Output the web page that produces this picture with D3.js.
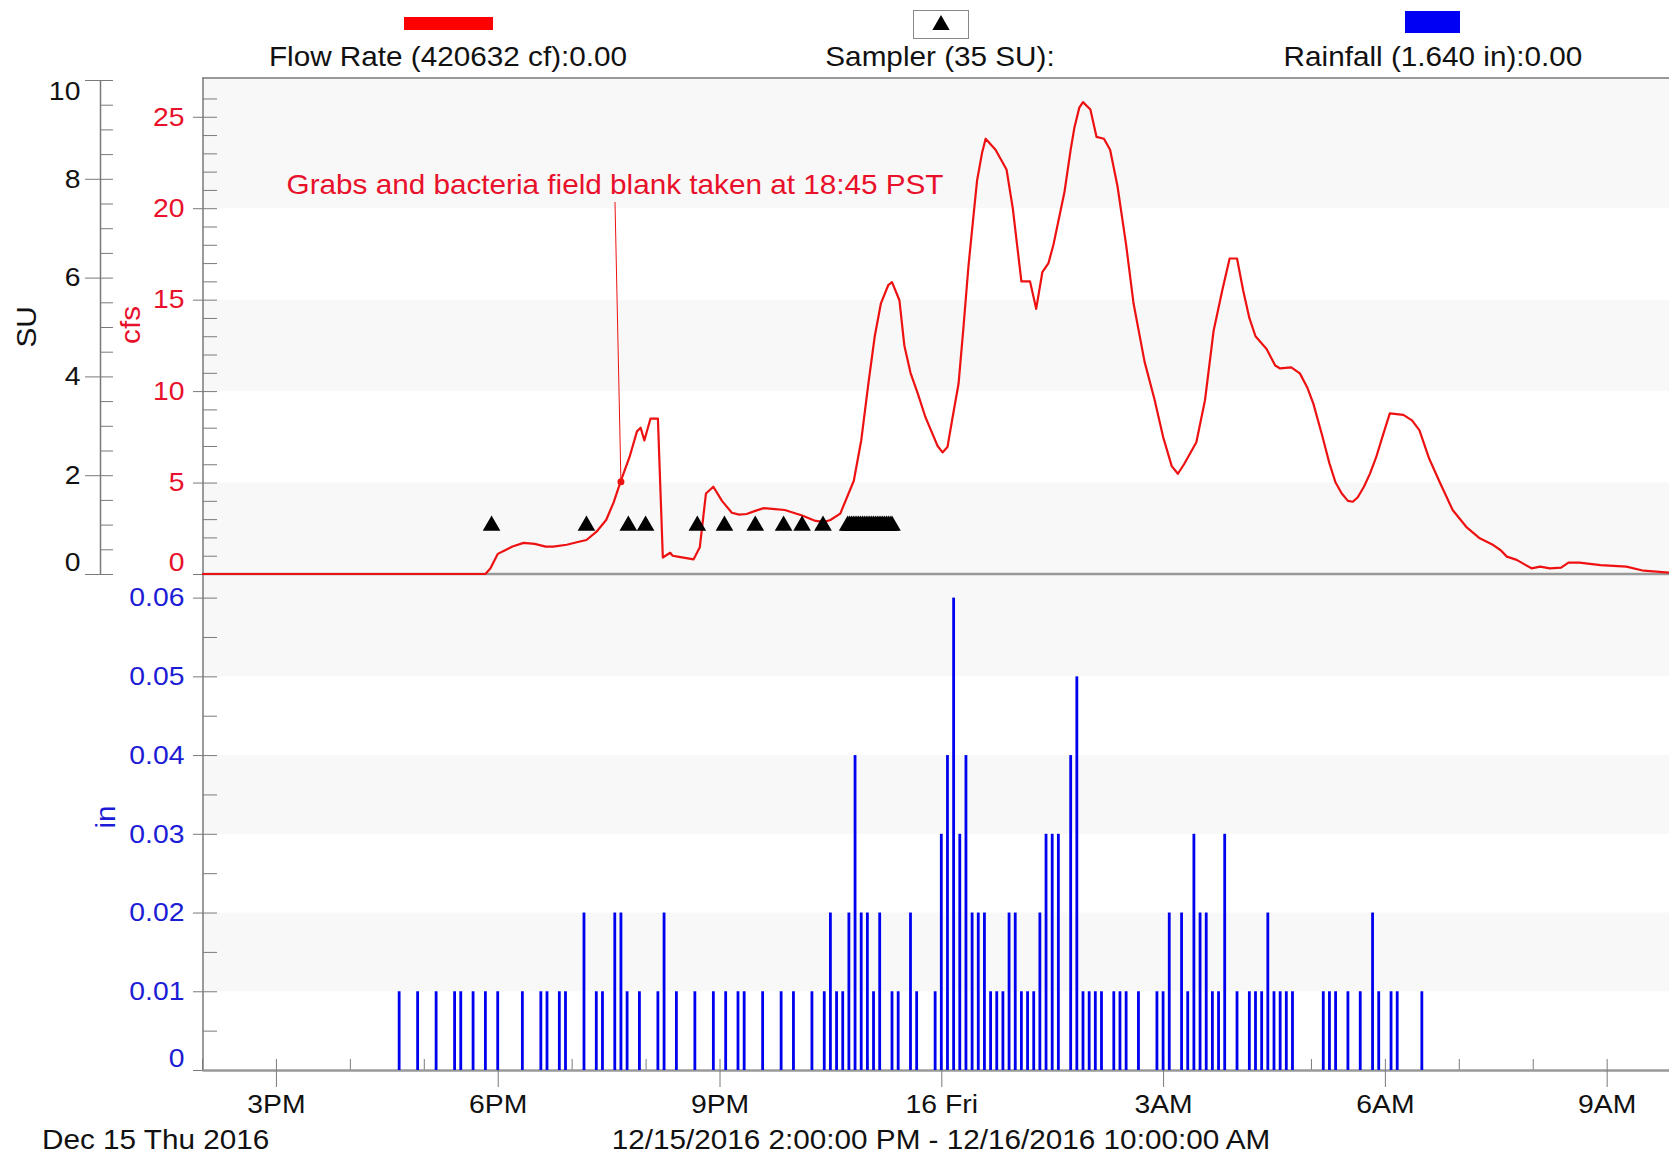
<!DOCTYPE html>
<html>
<head>
<meta charset="utf-8">
<script src="https://cdn.jsdelivr.net/npm/d3@7"></script>
<style>
  body { margin: 0; background: #fff; }
  svg { display: block; font-family: "Liberation Sans", Arial, sans-serif; }
</style>
</head>
<body>
<svg id="chart" width="1669" height="1155"></svg>
<script>
// minutes after 12/15/2016 2:00 PM, flow in cfs
const flowPoints = [[0,0],[230,0],[234,0.3],[240,1.1],[246,1.3],[252,1.5],[261,1.7],[270,1.65],[279,1.5],[285,1.5],[296,1.6],[305,1.75],[312,1.86],[320,2.3],[328,2.95],[334,3.9],[340,5.1],[347,6.4],[353,7.8],[356,8.0],[359,7.3],[364,8.5],[370,8.5],[374,0.9],[380,1.16],[382,1.0],[386,0.95],[399,0.8],[404,1.46],[409,4.4],[415,4.77],[422,4.0],[430,3.35],[436,3.25],[442,3.28],[449,3.45],[456,3.6],[465,3.55],[473,3.5],[487,3.2],[498,2.9],[505,2.85],[510,2.95],[518,3.3],[529,5.1],[535,7.3],[541,10.5],[546,13.0],[551,14.8],[557,15.8],[560,15.96],[566,14.97],[570,12.5],[575,11.0],[581,9.85],[587,8.6],[592,7.8],[597,7.0],[601,6.65],[605,6.94],[609,8.5],[614,10.4],[618,13.5],[622,16.8],[626,19.5],[629,21.5],[633,23.0],[636,23.8],[644,23.2],[649,22.6],[653,22.1],[658,20.0],[665,16],[672,16],[677,14.5],[682,16.5],[687,17.0],[691,18],[700,20.9],[705,23.2],[708,24.4],[712,25.5],[715,25.8],[721,25.4],[726,23.9],[732,23.8],[737,23.2],[743,21.2],[750,18],[756,14.8],[765,11.6],[773,9.56],[780,7.5],[787,5.9],[792,5.48],[797,6.0],[807,7.2],[814,9.5],[821,13.3],[828,15.5],[834,17.25],[840,17.25],[845,15.5],[850,14.0],[855,13.0],[864,12.3],[871,11.4],[875,11.24],[884,11.3],[891,10.97],[897,10.2],[902,9.3],[909,7.6],[915,6.05],[920,5.0],[925,4.4],[930,4.0],[934,3.95],[938,4.2],[943,4.77],[948,5.5],[953,6.4],[958,7.5],[964,8.78],[975,8.7],[982,8.4],[988,7.87],[996,6.3],[1005,4.95],[1015,3.5],[1026,2.58],[1037,1.95],[1048,1.58],[1054,1.3],[1059,0.95],[1067,0.77],[1074,0.5],[1079,0.31],[1086,0.4],[1094,0.31],[1103,0.35],[1109,0.62],[1118,0.62],[1135,0.49],[1156,0.4],[1170,0.18],[1191,0.07],[1200,0.05]];

// rainfall tips: minutes after 2 PM and inches
const rainMinutes = [160,175,190,205,210,220,230,240,260,275,280,290,295,310,320,325,335,340,345,355,370,375,385,400,415,425,435,440,455,470,480,495,505,510,515,520,525,530,535,540,545,550,560,565,575,580,595,600,605,610,615,620,625,630,635,640,645,650,655,660,665,670,675,680,685,690,695,705,710,715,720,725,730,740,745,750,760,775,780,785,795,800,805,810,815,820,825,830,840,850,855,860,865,870,875,880,885,910,915,920,930,940,950,955,965,970,990];
const rainInches = [0.01,0.01,0.01,0.01,0.01,0.01,0.01,0.01,0.01,0.01,0.01,0.01,0.01,0.02,0.01,0.01,0.02,0.02,0.01,0.01,0.01,0.02,0.01,0.01,0.01,0.01,0.01,0.01,0.01,0.01,0.01,0.01,0.01,0.02,0.01,0.01,0.02,0.04,0.02,0.02,0.01,0.02,0.01,0.01,0.02,0.01,0.01,0.03,0.04,0.06,0.03,0.04,0.02,0.02,0.02,0.01,0.01,0.01,0.02,0.02,0.01,0.01,0.01,0.02,0.03,0.03,0.03,0.04,0.05,0.01,0.01,0.01,0.01,0.01,0.01,0.01,0.01,0.01,0.01,0.02,0.02,0.01,0.03,0.02,0.02,0.01,0.01,0.03,0.01,0.01,0.01,0.01,0.02,0.01,0.01,0.01,0.01,0.01,0.01,0.01,0.01,0.01,0.02,0.01,0.01,0.01,0.01];

// sampler events (minutes after 2 PM), each plotted at 1 SU
const samplerMinutes = [235,312,346,360,402,424,449,472,487,504,524,525.5,527,528.5,530,531.5,533,534.5,536,537.5,539,540.5,542,543.5,545,546.5,548,549.5,551,552.5,554,555.5,557,558.5,560];
const samplerValue = 1;

const annotation = { minute: 340, cfs: 5.05, text: "Grabs and bacteria field blank taken at 18:45 PST" };

const xTickHours = [3, 6, 9, 12, 15, 18, 21]; // hours after 12/15 12:00 PM
const xTickLabels = ["3PM", "6PM", "9PM", "16 Fri", "3AM", "6AM", "9AM"];
const suTicks = [0, 2, 4, 6, 8, 10];
const cfsTicks = [0, 5, 10, 15, 20, 25];
const inTicks = [0, 0.01, 0.02, 0.03, 0.04, 0.05, 0.06];

const legendItems = ["Flow Rate (420632 cf):0.00", "Sampler (35 SU):", "Rainfall (1.640 in):0.00"];

const RED = "#ee1111", LABEL_RED = "#e8102a", BLUE = "#0000f0", LABEL_BLUE = "#1c1cd6", AXIS = "#7a7a7a";
const TICK_FONT = 26, TICK_SX = 1.09, TEXT_FONT = 27, TEXT_SX = 1.1;

const start = new Date(2016, 11, 15, 14, 0);
const end = new Date(2016, 11, 16, 10, 0);
const minToDate = (m) => new Date(start.getTime() + m * 60000);

const svg = d3.select("#chart");

const x = d3.scaleTime().domain([start, end]).range([202, 1680.6]);
const ySU = d3.scaleLinear().domain([0, 10]).range([574, 80]);
const yCfs = d3.scaleLinear().domain([0, 27.12]).range([574, 78]);
const yIn = d3.scaleLinear().domain([0, 0.063]).range([1070, 574]);

// text that is a bit wider than the stock font, as in the original
function label(px, py, str, opts) {
  const o = Object.assign({ size: TEXT_FONT, sx: TEXT_SX, anchor: "start", fill: "#111", rotate: 0 }, opts);
  return svg.append("text")
    .attr("transform", `translate(${px},${py}) rotate(${o.rotate}) scale(${o.sx},1)`)
    .attr("text-anchor", o.anchor).attr("fill", o.fill)
    .style("font-size", o.size + "px").text(str);
}
function styleTicks(g, fill) {
  g.selectAll("text").attr("fill", fill).style("font-size", TICK_FONT + "px")
    .attr("transform", `scale(${TICK_SX},1)`);
}

// background bands
const topBands = [[20, 27.12], [10, 15], [0, 5]];
svg.append("g").selectAll("rect").data(topBands).join("rect")
  .attr("x", 203).attr("width", 1669 - 203)
  .attr("y", (d) => yCfs(d[1])).attr("height", (d) => yCfs(d[0]) - yCfs(d[1]))
  .attr("fill", "#f8f8f8");
const bottomBands = [[0.05, 0.063], [0.03, 0.04], [0.01, 0.02]];
svg.append("g").selectAll("rect").data(bottomBands).join("rect")
  .attr("x", 203).attr("width", 1669 - 203)
  .attr("y", (d) => yIn(d[1])).attr("height", (d) => yIn(d[0]) - yIn(d[1]))
  .attr("fill", "#f8f8f8");

// frame lines
svg.append("line").attr("x1", 202).attr("x2", 1669).attr("y1", 78).attr("y2", 78)
  .attr("stroke", "#999").attr("stroke-width", 2);
svg.append("line").attr("x1", 202).attr("x2", 1669).attr("y1", 574).attr("y2", 574)
  .attr("stroke", "#999").attr("stroke-width", 2.5);

// SU axis
const suMinor = d3.range(0, 10.01, 0.5);
svg.append("g").attr("transform", "translate(100,0)")
  .call(d3.axisRight(ySU).tickValues(suMinor).tickSize(13).tickFormat("").tickSizeOuter(0))
  .call((g) => g.selectAll("line").attr("stroke", AXIS))
  .call((g) => g.select(".domain").attr("stroke", AXIS).attr("stroke-width", 1.5));
svg.append("g").attr("transform", "translate(100,0)")
  .call(d3.axisLeft(ySU).tickValues(suTicks).tickSize(15).tickPadding(3).tickSizeOuter(0))
  .call((g) => g.select(".domain").remove())
  .call((g) => g.selectAll("line").attr("stroke", AXIS))
  .call((g) => styleTicks(g, "#111"))
  .call((g) => g.selectAll(".tick").filter((d) => d === 0).select("text").attr("dy", "-0.12em"))
  .call((g) => g.selectAll(".tick").filter((d) => d === 10).select("text").attr("dy", "0.75em"));

// cfs axis
svg.append("g").attr("transform", "translate(203,0)")
  .call(d3.axisRight(yCfs).tickValues(d3.range(0, 27, 1)).tickSize(14).tickFormat("").tickSizeOuter(0))
  .call((g) => g.selectAll("line").attr("stroke", AXIS))
  .call((g) => g.select(".domain").remove());
svg.append("g").attr("transform", "translate(203,0)")
  .call(d3.axisLeft(yCfs).tickValues(cfsTicks).tickSize(10).tickPadding(7).tickSizeOuter(0))
  .call((g) => g.select(".domain").remove())
  .call((g) => g.selectAll("line").attr("stroke", AXIS))
  .call((g) => styleTicks(g, LABEL_RED))
  .call((g) => g.selectAll(".tick").filter((d) => d === 0).select("text").attr("dy", "-0.12em"));

// rainfall axis
svg.append("g").attr("transform", "translate(203,0)")
  .call(d3.axisRight(yIn).tickValues(d3.range(0, 0.0626, 0.005)).tickSize(14).tickFormat("").tickSizeOuter(0))
  .call((g) => g.selectAll("line").attr("stroke", AXIS))
  .call((g) => g.select(".domain").remove());
svg.append("g").attr("transform", "translate(203,0)")
  .call(d3.axisLeft(yIn).tickValues(inTicks).tickSize(10).tickPadding(7).tickFormat((d) => d === 0 ? "0" : d3.format(".2f")(d)).tickSizeOuter(0))
  .call((g) => g.select(".domain").remove())
  .call((g) => g.selectAll("line").attr("stroke", AXIS))
  .call((g) => styleTicks(g, LABEL_BLUE))
  .call((g) => g.selectAll(".tick").filter((d) => d === 0).select("text").attr("dy", "-0.12em"));

svg.append("line").attr("x1", 203).attr("x2", 203).attr("y1", 78).attr("y2", 1071)
  .attr("stroke", AXIS).attr("stroke-width", 1.5);

// x axis
const hourOf = (h) => new Date(2016, 11, 15, 12 + h, 0);
svg.append("g").attr("transform", "translate(0,1070)")
  .call(d3.axisTop(x).ticks(d3.timeHour.every(1)).tickSize(11).tickFormat("").tickSizeOuter(0))
  .call((g) => g.select(".domain").remove())
  .call((g) => g.selectAll("line").attr("stroke", AXIS));
svg.append("g").attr("transform", "translate(0,1070)")
  .call(d3.axisBottom(x).tickValues(xTickHours.map(hourOf)).tickSize(17).tickPadding(8)
    .tickFormat((d, i) => xTickLabels[i]).tickSizeOuter(0))
  .call((g) => g.select(".domain").attr("stroke", "#999").attr("stroke-width", 2.5))
  .call((g) => g.selectAll("line").attr("stroke", AXIS))
  .call((g) => styleTicks(g, "#111"));

// rainfall bars
svg.append("g").selectAll("rect").data(rainMinutes).join("rect")
  .attr("x", (d) => x(minToDate(d)) - 1.4)
  .attr("width", 2.8)
  .attr("y", (d, i) => yIn(rainInches[i]))
  .attr("height", (d, i) => yIn(0) - yIn(rainInches[i]))
  .attr("fill", BLUE);

// flow line
const line = d3.line()
  .x((d) => x(minToDate(d[0])))
  .y((d) => yCfs(d[1]));
svg.append("path").datum(flowPoints)
  .attr("d", line).attr("fill", "none").attr("stroke", RED).attr("stroke-width", 2.2)
  .attr("stroke-linejoin", "round");

// sampler triangles
const tri = d3.symbol().type(d3.symbolTriangle).size(135);
svg.append("g").selectAll("path").data(samplerMinutes).join("path")
  .attr("transform", (d) => `translate(${x(minToDate(d))},${ySU(samplerValue) + 1})`)
  .attr("d", tri).attr("fill", "#000");

// annotation
const ax = x(minToDate(annotation.minute)), ay = yCfs(annotation.cfs);
svg.append("line").attr("x1", 615).attr("y1", 202).attr("x2", ax).attr("y2", ay)
  .attr("stroke", RED).attr("stroke-width", 1);
svg.append("circle").attr("cx", ax).attr("cy", ay).attr("r", 3.5).attr("fill", RED);
label(615, 194, annotation.text, { anchor: "middle", fill: LABEL_RED });

// axis titles
label(36, 327, "SU", { anchor: "middle", rotate: -90 });
label(140, 325, "cfs", { anchor: "middle", rotate: -90, fill: LABEL_RED });
label(115, 817, "in", { anchor: "middle", rotate: -90, fill: LABEL_BLUE });

// legend
const legendX = [448, 940, 1433];
svg.append("rect").attr("x", 404).attr("y", 17).attr("width", 89).attr("height", 13).attr("fill", "#f00");
svg.append("rect").attr("x", 913.5).attr("y", 10.5).attr("width", 55).attr("height", 28)
  .attr("fill", "#fff").attr("stroke", "#888").attr("stroke-width", 1);
svg.append("path").attr("transform", "translate(941,25)").attr("d", d3.symbol().type(d3.symbolTriangle).size(130)).attr("fill", "#000");
svg.append("rect").attr("x", 1405).attr("y", 11).attr("width", 55).attr("height", 22).attr("fill", "#0000f5");
legendItems.forEach((d, i) => label(legendX[i], 66, d, { anchor: "middle" }));

// footer
label(42, 1149, "Dec 15 Thu 2016");
label(941, 1149, "12/15/2016 2:00:00 PM - 12/16/2016 10:00:00 AM", { anchor: "middle" });
</script>
</body>
</html>
